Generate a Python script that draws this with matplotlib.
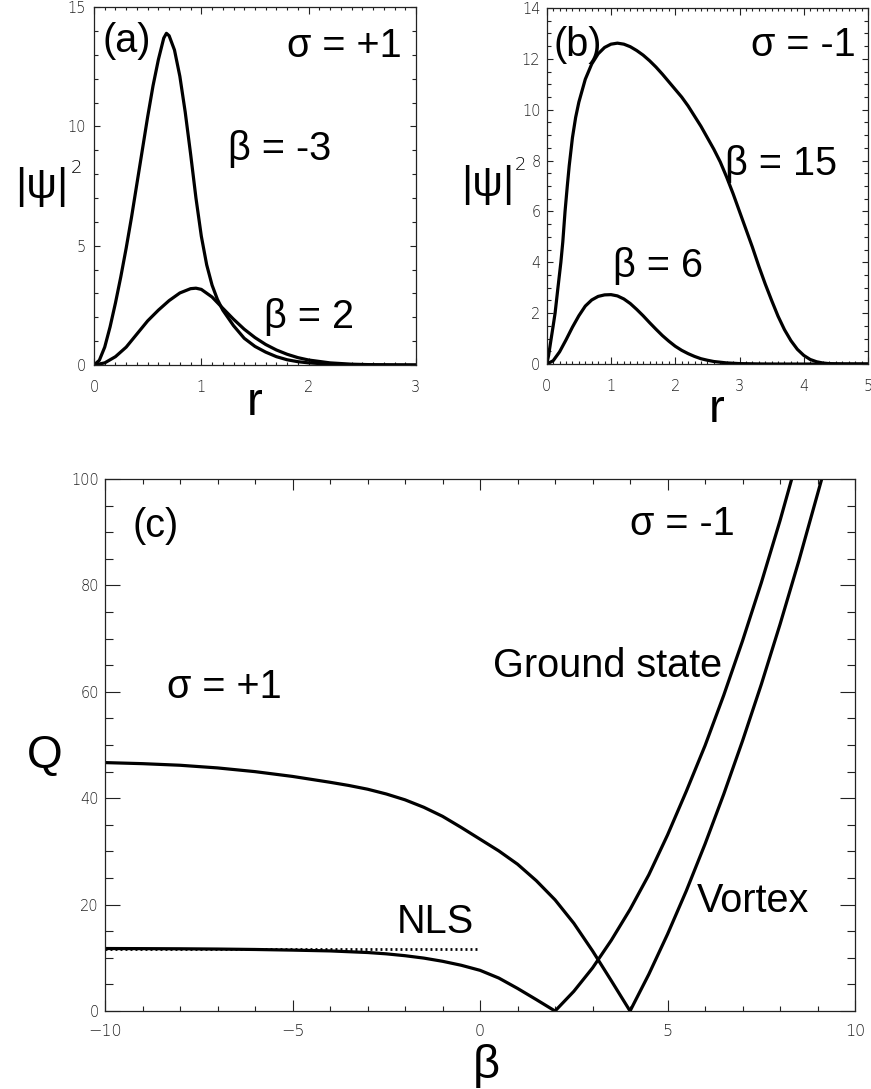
import matplotlib
matplotlib.use("Agg")
import matplotlib.pyplot as plt
from matplotlib.ticker import MultipleLocator

# ---------------- data ----------------
# panel (a): sigma = +1, |psi|^2 versus r
r_a_bm3 = [0, 0.05, 0.1, 0.15, 0.2, 0.25, 0.3, 0.35, 0.4, 0.45, 0.5, 0.55, 0.6, 0.65,
           0.675, 0.7, 0.75, 0.8, 0.85, 0.9, 0.95, 1.0, 1.05, 1.1, 1.15, 1.2, 1.3,
           1.4, 1.5, 1.6, 1.7, 1.8, 1.9, 2.0, 2.2, 2.4, 2.7, 3.0]
psi_a_bm3 = [0, 0.2, 0.75, 1.6, 2.6, 3.7, 4.9, 6.2, 7.6, 9.0, 10.4, 11.7, 12.8, 13.7,
             13.9, 13.8, 13.2, 12.1, 10.6, 8.85, 7.0, 5.4, 4.2, 3.35, 2.75, 2.3, 1.65,
             1.12, 0.78, 0.54, 0.35, 0.22, 0.14, 0.09, 0.035, 0.012, 0.003, 0]
r_a_b2 = [0, 0.1, 0.2, 0.3, 0.4, 0.5, 0.6, 0.7, 0.8, 0.9, 0.95, 1.0, 1.1, 1.2, 1.3,
          1.4, 1.5, 1.6, 1.7, 1.8, 1.9, 2.0, 2.2, 2.4, 2.6, 2.8, 3.0]
psi_a_b2 = [0, 0.09, 0.35, 0.75, 1.3, 1.85, 2.3, 2.7, 3.02, 3.2, 3.22, 3.17, 2.85,
            2.38, 1.92, 1.5, 1.15, 0.86, 0.63, 0.45, 0.31, 0.21, 0.09, 0.035, 0.013,
            0.004, 0]

# panel (b): sigma = -1, |psi|^2 versus r
r_b_b15 = [0, 0.03, 0.06, 0.1, 0.13, 0.17, 0.22, 0.25, 0.285, 0.32, 0.35, 0.4, 0.45,
           0.5, 0.6, 0.7, 0.8, 0.9, 1.0, 1.1, 1.2, 1.3, 1.4, 1.5, 1.6, 1.7, 1.8, 1.9,
           2.0, 2.1, 2.2, 2.3, 2.4, 2.5, 2.6, 2.7, 2.8, 2.9, 3.0, 3.1, 3.2, 3.3, 3.4,
           3.5, 3.6, 3.7, 3.8, 3.9, 4.0, 4.1, 4.2, 4.3, 4.4, 4.6, 5.0]
psi_b_b15 = [0, 0.35, 0.85, 1.5, 2.0, 2.9, 4.0, 4.8, 6.0, 7.0, 7.8, 8.9, 9.7,
             10.3, 11.2, 11.8, 12.2, 12.45, 12.58, 12.62, 12.58, 12.48, 12.33, 12.15,
             11.93, 11.68, 11.4, 11.1, 10.8, 10.5, 10.15, 9.75, 9.35, 8.9, 8.45, 7.95,
             7.35, 6.7, 6.0, 5.3, 4.6, 3.85, 3.15, 2.5, 1.88, 1.35, 0.92, 0.58, 0.34,
             0.18, 0.09, 0.04, 0.016, 0.003, 0]
r_b_b6 = [0, 0.1, 0.2, 0.3, 0.4, 0.5, 0.6, 0.7, 0.8, 0.9, 1.0, 1.1, 1.2, 1.3, 1.4,
          1.5, 1.6, 1.7, 1.8, 1.9, 2.0, 2.1, 2.2, 2.3, 2.4, 2.5, 2.6, 2.8, 3.0, 3.3,
          3.6, 5.0]
psi_b_b6 = [0, 0.13, 0.48, 0.95, 1.45, 1.9, 2.28, 2.52, 2.66, 2.72, 2.73, 2.68, 2.56,
            2.38, 2.15, 1.9, 1.63, 1.37, 1.12, 0.9, 0.7, 0.54, 0.41, 0.3, 0.21, 0.15,
            0.1, 0.045, 0.018, 0.005, 0, 0]

# panel (c): power Q versus beta
beta_gs_pos = [-10, -9, -8, -7, -6, -5, -4, -3.5, -3, -2.5, -2, -1.5, -1, -0.5, 0,
               0.5, 1.0, 1.5, 2.0]
Q_gs_pos = [11.75, 11.73, 11.7, 11.65, 11.57, 11.45, 11.3, 11.15, 11.0, 10.75, 10.4,
            9.95, 9.35, 8.6, 7.65, 6.2, 4.25, 2.15, 0.0]
beta_gs_neg = [2.0, 2.5, 3.0, 3.5, 4.0, 4.5, 5.0, 5.5, 6.0, 6.5, 7.0, 7.5, 8.0, 8.35]
Q_gs_neg = [0, 3.7, 8.1, 13.3, 19.1, 25.6, 33.1, 41.3, 49.9, 59.4, 69.6, 80.5, 92.2,
            101]
beta_vx_pos = [-10, -9, -8, -7, -6, -5, -4, -3.5, -3, -2.5, -2, -1.5, -1, -0.5, 0,
               0.5, 1.0, 1.5, 2.0, 2.5, 3.0, 3.5, 4.0]
Q_vx_pos = [46.7, 46.5, 46.2, 45.7, 45.0, 44.1, 43.0, 42.4, 41.7, 40.8, 39.7, 38.3,
            36.6, 34.5, 32.3, 30.1, 27.6, 24.5, 20.9, 16.5, 11.3, 5.7, 0.0]
beta_vx_neg = [4.0, 4.5, 5.0, 5.5, 6.0, 6.5, 7.0, 7.5, 8.0, 8.5, 9.0, 9.15]
Q_vx_neg = [0, 6.9, 14.45, 22.6, 31.4, 40.8, 50.8, 61.4, 72.7, 84.6, 97.2, 101]
beta_nls = [-10, 0]
Q_nls = [11.75, 11.75]

# ---------------- styling ----------------
LBL = "Liberation Sans"
FS = 28.5
TICKFONT = {"family": "DejaVu Sans", "weight": "light", "size": 10.5}
plt.rcParams["lines.scale_dashes"] = False

fig = plt.figure(figsize=(8.71, 10.89), dpi=100)

ax_a = fig.add_axes([0.1079, 0.6648, 0.3697, 0.3287])
ax_b = fig.add_axes([0.6277, 0.6657, 0.3689, 0.3269])
ax_c = fig.add_axes([0.1206, 0.0716, 0.8611, 0.4885])

LW = 2.3


def style_axes(ax, majlen, minlen, xpad, ypad, xsize=10.5):
    for sp in ax.spines.values():
        sp.set_linewidth(0.9)
        sp.set_color("#222222")
    ax.tick_params(which="both", direction="in", top=True, right=True,
                   color="#222222", width=0.8)
    ax.tick_params(which="major", length=majlen[0], axis="x", pad=xpad)
    ax.tick_params(which="major", length=majlen[1], axis="y", pad=ypad)
    ax.tick_params(which="minor", length=minlen[0], axis="x")
    ax.tick_params(which="minor", length=minlen[1], axis="y")
    for lab in ax.get_xticklabels() + ax.get_yticklabels():
        lab.set_fontfamily(TICKFONT["family"])
        lab.set_fontweight(TICKFONT["weight"])
        lab.set_fontsize(TICKFONT["size"])
        lab.set_color("#222222")
    for lab in ax.get_xticklabels():
        lab.set_fontsize(xsize)


# ---- panel (a)
ax_a.plot(r_a_bm3, psi_a_bm3, color="black", lw=LW, solid_capstyle="round",
          solid_joinstyle="round")
ax_a.plot(r_a_b2, psi_a_b2, color="black", lw=LW, solid_capstyle="round",
          solid_joinstyle="round")
ax_a.set_xlim(0, 3)
ax_a.set_ylim(0, 15)
ax_a.xaxis.set_major_locator(MultipleLocator(1))
ax_a.xaxis.set_minor_locator(MultipleLocator(0.1))
ax_a.yaxis.set_major_locator(MultipleLocator(5))
ax_a.yaxis.set_minor_locator(MultipleLocator(1))
style_axes(ax_a, (4.8, 4.5), (2.5, 2.7), 10.5, 6.0)
ax_a.text(0.08, 13.1, "(a)", fontsize=FS, family=LBL)
ax_a.text(2.87, 12.9, "σ = +1", fontsize=FS, family=LBL, ha="right")
ax_a.text(1.25, 8.6, "β = -3", fontsize=FS, family=LBL)
ax_a.text(1.58, 1.55, "β = 2", fontsize=FS, family=LBL)
ax_a.text(-0.245, 0.497, "|ψ|", fontsize=31, family=LBL, transform=ax_a.transAxes,
          ha="left", va="center")
ax_a.text(-0.072, 0.55, "2", fontsize=13, family="DejaVu Sans", weight="light",
          transform=ax_a.transAxes, ha="left", va="center")
ax_a.text(0.5, -0.14, "r", fontsize=34, family=LBL, transform=ax_a.transAxes,
          ha="center", va="baseline")

# ---- panel (b)
ax_b.plot(r_b_b15, psi_b_b15, color="black", lw=LW, solid_capstyle="round",
          solid_joinstyle="round")
ax_b.plot(r_b_b6, psi_b_b6, color="black", lw=LW, solid_capstyle="round",
          solid_joinstyle="round")
ax_b.set_xlim(0, 5)
ax_b.set_ylim(0, 14)
ax_b.xaxis.set_major_locator(MultipleLocator(1))
ax_b.xaxis.set_minor_locator(MultipleLocator(0.1))
ax_b.yaxis.set_major_locator(MultipleLocator(2))
ax_b.yaxis.set_minor_locator(MultipleLocator(0.5))
style_axes(ax_b, (4.8, 4.5), (2.5, 2.7), 10.5, 4.5)
ax_b.text(0.1, 12.1, "(b)", fontsize=FS, family=LBL)
ax_b.text(4.8, 12.1, "σ = -1", fontsize=FS, family=LBL, ha="right")
ax_b.text(2.77, 7.44, "β = 15", fontsize=FS, family=LBL)
ax_b.text(1.03, 3.44, "β = 6", fontsize=FS, family=LBL)
ax_b.text(-0.265, 0.503, "|ψ|", fontsize=31, family=LBL, transform=ax_b.transAxes,
          ha="left", va="center")
ax_b.text(-0.1, 0.56, "2", fontsize=13, family="DejaVu Sans", weight="light",
          transform=ax_b.transAxes, ha="left", va="center")
ax_b.text(0.53, -0.162, "r", fontsize=34, family=LBL, transform=ax_b.transAxes,
          ha="center", va="baseline")

# ---- panel (c)
ax_c.plot(beta_gs_pos + beta_gs_neg[1:], Q_gs_pos + Q_gs_neg[1:], color="black",
          lw=LW, solid_joinstyle="miter")
ax_c.plot(beta_vx_pos + beta_vx_neg[1:], Q_vx_pos + Q_vx_neg[1:], color="black",
          lw=LW, solid_joinstyle="miter")
ax_c.plot(beta_nls, Q_nls, color="black", lw=2.0, dashes=(1.4, 2.2))
ax_c.set_xlim(-10, 10)
ax_c.set_ylim(0, 100)
ax_c.xaxis.set_major_locator(MultipleLocator(5))
ax_c.xaxis.set_minor_locator(MultipleLocator(1))
ax_c.yaxis.set_major_locator(MultipleLocator(20))
ax_c.yaxis.set_minor_locator(MultipleLocator(5))
style_axes(ax_c, (8.0, 10.8), (3.6, 5.8), 9.5, 4.5, xsize=11.5)
ax_c.text(-9.28, 89.1, "(c)", fontsize=FS, family=LBL)
ax_c.text(-8.36, 58.8, "σ = +1", fontsize=FS, family=LBL)
ax_c.text(4.0, 89.5, "σ = -1", fontsize=FS, family=LBL)
ax_c.text(6.45, 62.7, "Ground state", fontsize=FS, family=LBL, ha="right")
ax_c.text(5.79, 18.6, "Vortex", fontsize=FS, family=LBL)
ax_c.text(-2.22, 14.7, "NLS", fontsize=FS, family=LBL)
ax_c.text(-0.08, 0.48, "Q", fontsize=33, family=LBL, transform=ax_c.transAxes,
          ha="center", va="center")
ax_c.text(0.509, -0.126, "β", fontsize=34, family=LBL, transform=ax_c.transAxes,
          ha="center", va="baseline")

fig.savefig("out.png", dpi=100)
